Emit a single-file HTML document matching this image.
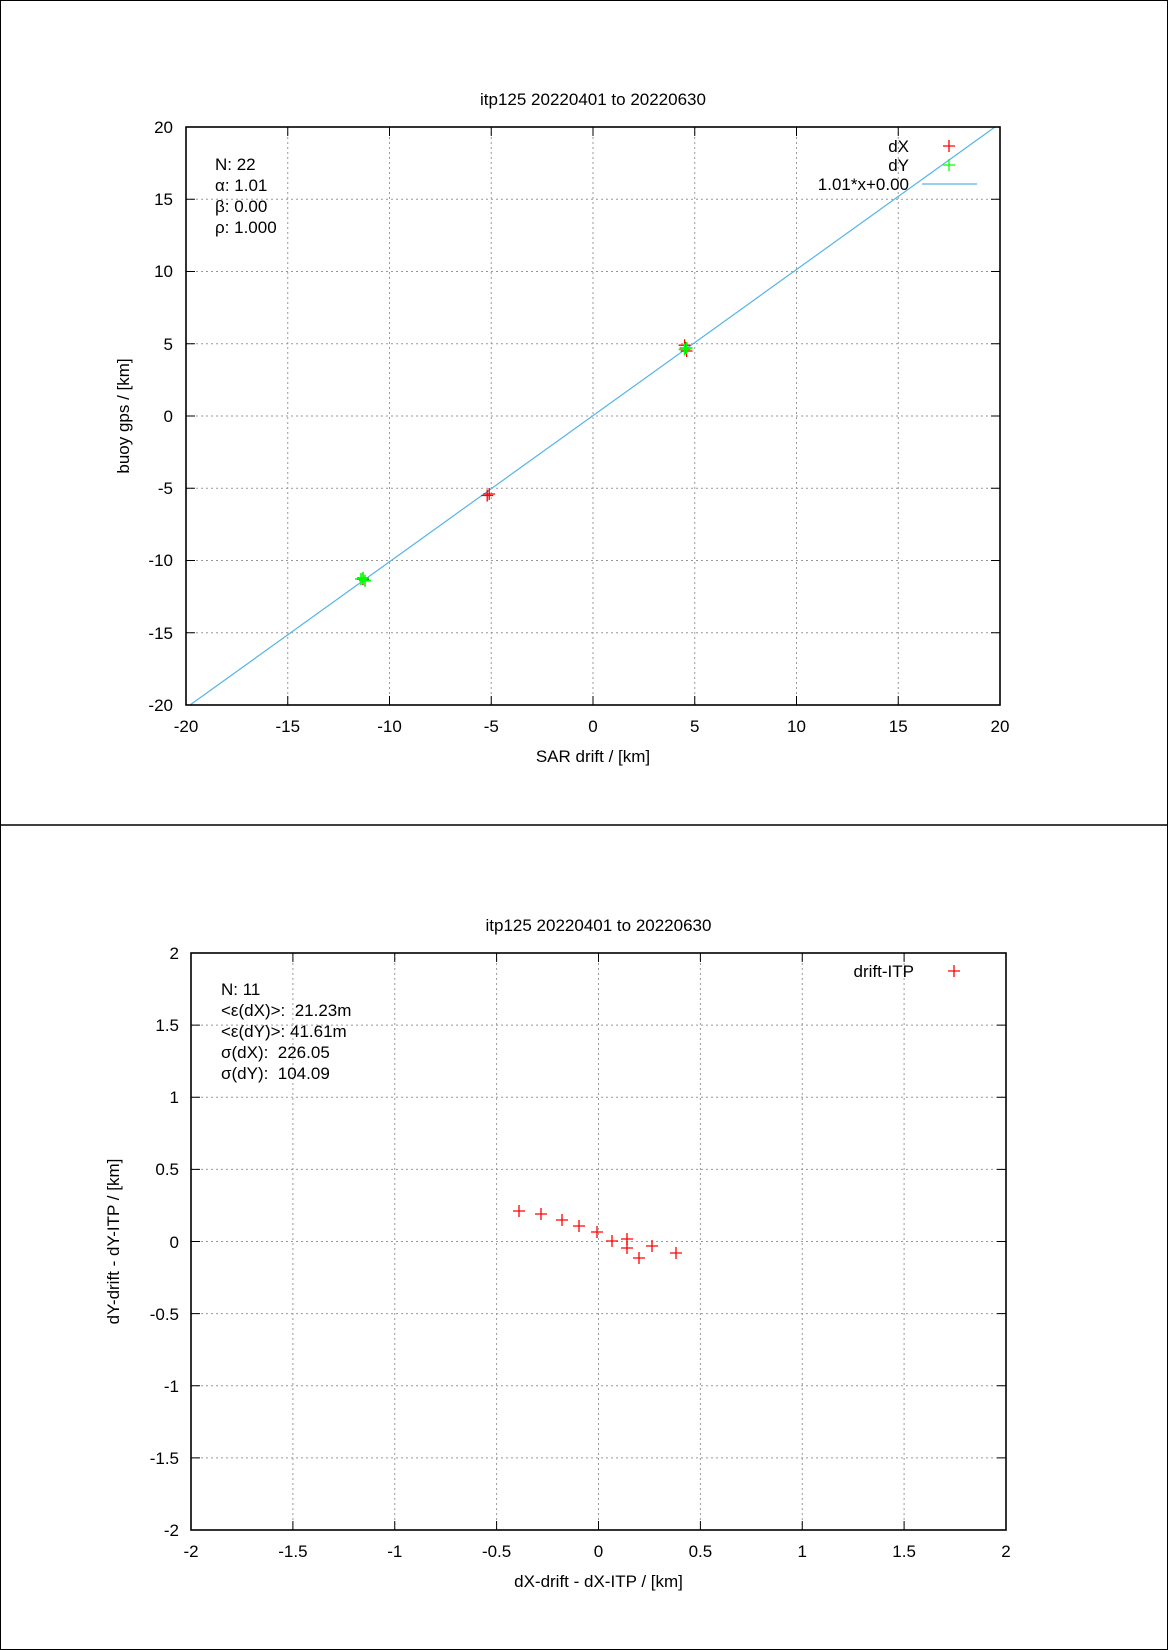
<!DOCTYPE html>
<html><head><meta charset="utf-8"><style>
html,body{margin:0;padding:0;background:#fff}
svg{display:block}
text{font-family:"Liberation Sans",Arial,sans-serif;font-size:17px;fill:#000}
.g{stroke:#999;stroke-width:1;stroke-dasharray:2,3}
.yt{text-anchor:end}
.xt{text-anchor:middle}
</style></head><body>
<svg width="1168" height="1650" viewBox="0 0 1168 1650" xmlns="http://www.w3.org/2000/svg">
<rect x="0.5" y="0.5" width="1167" height="1649" fill="#fff" stroke="#000"/>
<line x1="0" y1="825" x2="1168" y2="825" stroke="#000" stroke-width="1.5"/>

<!-- Plot 1 -->
<g>
<g class="g">
<line x1="287.75" y1="127" x2="287.75" y2="705"/><line x1="389.5" y1="127" x2="389.5" y2="705"/><line x1="491.25" y1="127" x2="491.25" y2="705"/><line x1="593" y1="127" x2="593" y2="705"/><line x1="694.75" y1="127" x2="694.75" y2="705"/><line x1="796.5" y1="127" x2="796.5" y2="705"/><line x1="898.25" y1="127" x2="898.25" y2="705"/>
<line x1="186" y1="199.25" x2="1000" y2="199.25"/><line x1="186" y1="271.5" x2="1000" y2="271.5"/><line x1="186" y1="343.75" x2="1000" y2="343.75"/><line x1="186" y1="416" x2="1000" y2="416"/><line x1="186" y1="488.25" x2="1000" y2="488.25"/><line x1="186" y1="560.5" x2="1000" y2="560.5"/><line x1="186" y1="632.75" x2="1000" y2="632.75"/>
</g>
<g stroke="#000" stroke-width="1">
<path d="M287.75 705v-9M389.5 705v-9M491.25 705v-9M593 705v-9M694.75 705v-9M796.5 705v-9M898.25 705v-9M287.75 127v9M389.5 127v9M491.25 127v9M593 127v9M694.75 127v9M796.5 127v9M898.25 127v9"/>
<path d="M186 199.25h9M186 271.5h9M186 343.75h9M186 416h9M186 488.25h9M186 560.5h9M186 632.75h9M1000 199.25h-9M1000 271.5h-9M1000 343.75h-9M1000 416h-9M1000 488.25h-9M1000 560.5h-9M1000 632.75h-9"/>
</g>
<line x1="190" y1="705" x2="995" y2="127" stroke="#56b4e9" stroke-width="1.2"/>
<g stroke="#ff0000" stroke-width="1.3">
<path d="M678.6 345.2h12M684.6 339.2v12"/><path d="M680.6 351h12M686.6 345v12"/><path d="M679.6 348h12M685.6 342v12"/>
<path d="M483.2 494h12M489.2 488v12"/><path d="M481.2 495.5h12M487.2 489.5v12"/>
<path d="M357 579.3h12M363 573.3v12"/>
</g>
<g stroke="#00ff00" stroke-width="1.6">
<path d="M680.6 348h12M686.6 342v12"/><path d="M678.6 349.5h12M684.6 343.5v12"/>
<path d="M357 577.8h12M363 571.8v12"/><path d="M359 580.7h12M365 574.7v12"/><path d="M355 579h12M361 573v12"/>
</g>
<rect x="186" y="127" width="814" height="578" fill="none" stroke="#000" stroke-width="1.6"/>
<g class="yt">
<text x="173" y="133">20</text><text x="173" y="205">15</text><text x="173" y="277">10</text><text x="173" y="350">5</text><text x="173" y="422">0</text><text x="173" y="494">-5</text><text x="173" y="566">-10</text><text x="173" y="639">-15</text><text x="173" y="711">-20</text>
</g>
<g class="xt">
<text x="186" y="732">-20</text><text x="287.75" y="732">-15</text><text x="389.5" y="732">-10</text><text x="491.25" y="732">-5</text><text x="593" y="732">0</text><text x="694.75" y="732">5</text><text x="796.5" y="732">10</text><text x="898.25" y="732">15</text><text x="1000" y="732">20</text>
</g>
<text x="593" y="105" text-anchor="middle">itp125 20220401 to 20220630</text>
<text x="593" y="762" text-anchor="middle">SAR drift / [km]</text>
<text transform="translate(129,416) rotate(-90)" text-anchor="middle">buoy gps / [km]</text>
<text x="215" y="170">N: 22</text>
<text x="215" y="191">α: 1.01</text>
<text x="215" y="212">β: 0.00</text>
<text x="215" y="233">ρ: 1.000</text>
<text x="909" y="152" text-anchor="end">dX</text>
<text x="909" y="171" text-anchor="end">dY</text>
<text x="909" y="190" text-anchor="end">1.01*x+0.00</text>
<path d="M943 146h12M949 140v12" stroke="#ff0000" stroke-width="1.3"/>
<path d="M943 165h12M949 159v12" stroke="#00ff00" stroke-width="1.3"/>
<line x1="922" y1="184" x2="977" y2="184" stroke="#56b4e9" stroke-width="1.2"/>
</g>

<!-- Plot 2 -->
<g>
<g class="g">
<line x1="292.9" y1="953" x2="292.9" y2="1530"/><line x1="394.75" y1="953" x2="394.75" y2="1530"/><line x1="496.6" y1="953" x2="496.6" y2="1530"/><line x1="598.5" y1="953" x2="598.5" y2="1530"/><line x1="700.4" y1="953" x2="700.4" y2="1530"/><line x1="802.25" y1="953" x2="802.25" y2="1530"/><line x1="904.1" y1="953" x2="904.1" y2="1530"/>
<line x1="191" y1="1025.1" x2="1006" y2="1025.1"/><line x1="191" y1="1097.25" x2="1006" y2="1097.25"/><line x1="191" y1="1169.4" x2="1006" y2="1169.4"/><line x1="191" y1="1241.5" x2="1006" y2="1241.5"/><line x1="191" y1="1313.6" x2="1006" y2="1313.6"/><line x1="191" y1="1385.75" x2="1006" y2="1385.75"/><line x1="191" y1="1457.9" x2="1006" y2="1457.9"/>
</g>
<g stroke="#000" stroke-width="1">
<path d="M292.9 1530v-9M394.75 1530v-9M496.6 1530v-9M598.5 1530v-9M700.4 1530v-9M802.25 1530v-9M904.1 1530v-9M292.9 953v9M394.75 953v9M496.6 953v9M598.5 953v9M700.4 953v9M802.25 953v9M904.1 953v9"/>
<path d="M191 1025.1h9M191 1097.25h9M191 1169.4h9M191 1241.5h9M191 1313.6h9M191 1385.75h9M191 1457.9h9M1006 1025.1h-9M1006 1097.25h-9M1006 1169.4h-9M1006 1241.5h-9M1006 1313.6h-9M1006 1385.75h-9M1006 1457.9h-9"/>
</g>
<g stroke="#ff0000" stroke-width="1.3">
<path d="M513 1211h12M519 1205v12"/><path d="M535 1214h12M541 1208v12"/><path d="M556 1220h12M562 1214v12"/><path d="M573 1226h12M579 1220v12"/><path d="M591 1232h12M597 1226v12"/><path d="M606 1241h12M612 1235v12"/><path d="M621 1239h12M627 1233v12"/><path d="M621 1248h12M627 1242v12"/><path d="M633 1258h12M639 1252v12"/><path d="M646 1246h12M652 1240v12"/><path d="M670 1253h12M676 1247v12"/>
</g>
<rect x="191" y="953" width="815" height="577" fill="none" stroke="#000" stroke-width="1.6"/>
<g class="yt">
<text x="179" y="959">2</text><text x="179" y="1031">1.5</text><text x="179" y="1103">1</text><text x="179" y="1175">0.5</text><text x="179" y="1248">0</text><text x="179" y="1320">-0.5</text><text x="179" y="1392">-1</text><text x="179" y="1464">-1.5</text><text x="179" y="1536">-2</text>
</g>
<g class="xt">
<text x="191" y="1557">-2</text><text x="292.9" y="1557">-1.5</text><text x="394.75" y="1557">-1</text><text x="496.6" y="1557">-0.5</text><text x="598.5" y="1557">0</text><text x="700.4" y="1557">0.5</text><text x="802.25" y="1557">1</text><text x="904.1" y="1557">1.5</text><text x="1006" y="1557">2</text>
</g>
<text x="598.5" y="931" text-anchor="middle">itp125 20220401 to 20220630</text>
<text x="598.5" y="1587" text-anchor="middle">dX-drift - dX-ITP / [km]</text>
<text transform="translate(119,1241.5) rotate(-90)" text-anchor="middle">dY-drift - dY-ITP / [km]</text>
<text x="221" y="995">N: 11</text>
<text x="221" y="1016" xml:space="preserve">&lt;ε(dX)&gt;:  21.23m</text>
<text x="221" y="1037">&lt;ε(dY)&gt;: 41.61m</text>
<text x="221" y="1058" xml:space="preserve">σ(dX):  226.05</text>
<text x="221" y="1079" xml:space="preserve">σ(dY):  104.09</text>
<text x="914" y="977" text-anchor="end">drift-ITP</text>
<path d="M948 971h12M954 965v12" stroke="#ff0000" stroke-width="1.3"/>
</g>
</svg>
</body></html>
